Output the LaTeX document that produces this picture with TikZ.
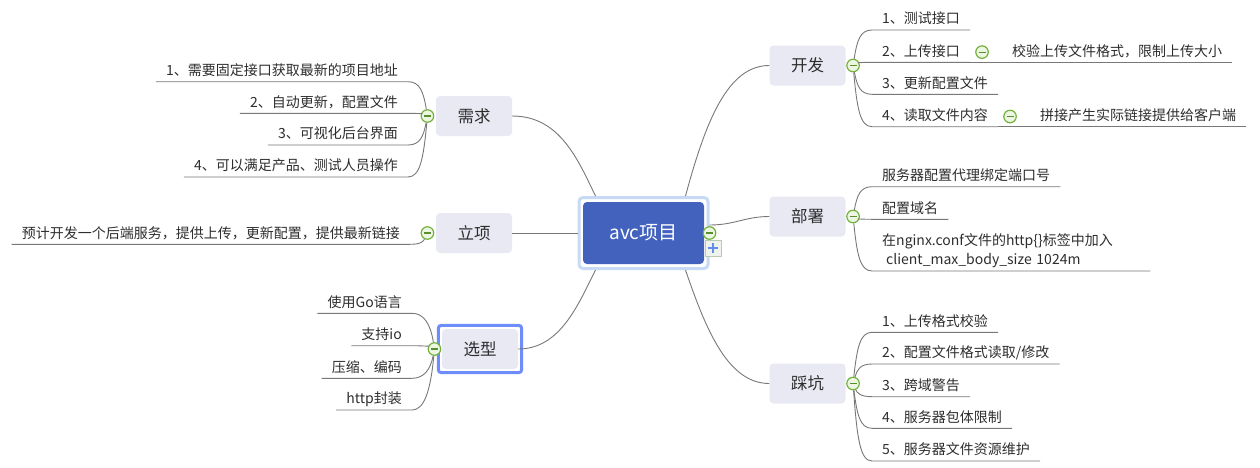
\documentclass[tikz,border=0pt]{standalone}
\usepackage{fontspec}
\setmainfont{Noto Sans CJK SC}
\usetikzlibrary{positioning,fit,calc}
\definecolor{rootblue}{RGB}{66,98,190}
\definecolor{rootring}{RGB}{199,218,245}
\definecolor{topicgray}{RGB}{232,233,243}
\definecolor{selblue}{RGB}{110,140,250}
\definecolor{inkgray}{RGB}{45,45,45}
\definecolor{linegray}{RGB}{120,120,120}
\definecolor{knobgreen}{RGB}{114,178,58}
\definecolor{knobfill}{RGB}{236,246,226}
\definecolor{plusblue}{RGB}{100,140,235}
\definecolor{plusedge}{RGB}{185,204,178}
\definecolor{plusfill}{RGB}{238,243,238}

\tikzset{
  rootnode/.style={fill=rootblue, rounded corners=4pt, text=white, minimum width=121pt, minimum height=62pt, font=\fontsize{19}{22}\selectfont},
  ringnode/.style={draw=rootring, line width=3pt, fill=white, rounded corners=4pt, minimum width=129pt, minimum height=71pt},
  topic/.style={fill=topicgray, rounded corners=4pt, text=inkgray, minimum width=76pt, minimum height=40pt, font=\fontsize{16.5}{19}\selectfont},
  selframe/.style={draw=selblue, line width=3pt, rounded corners=3pt, inner sep=3.5pt},
  leafbase/.style={text=inkgray, inner xsep=10pt, inner ysep=3pt, font=\fontsize{14}{17}\selectfont},
  leaf/.style={leafbase, text height=11pt, text depth=3pt},
  twig/.style={draw=linegray, line width=0.9pt},
  knob/.style={circle, draw=knobgreen, line width=1.2pt, fill=knobfill, minimum size=12.5pt, inner sep=0pt,
    path picture={\draw[knobgreen!80!black, line width=1.2pt] ([xshift=-3.5pt]path picture bounding box.center) -- ([xshift=3.5pt]path picture bounding box.center);}},
  plusbox/.style={draw=plusedge, fill=plusfill, minimum size=16pt, inner sep=0pt,
    path picture={\draw[plusblue, line width=2pt] ([xshift=-5pt]path picture bounding box.center) -- ([xshift=5pt]path picture bounding box.center) ([yshift=-5pt]path picture bounding box.center) -- ([yshift=5pt]path picture bounding box.center);}}
}

\begin{document}
\begin{tikzpicture}[x=1pt, y=-1pt]
  \useasboundingbox (0,0) rectangle (1260,467);

  % root
  \node[ringnode] (ring) at (643.5,233) {};
  \node[rootnode] (root) at (643.5,233) {avc项目};

  % main topics
  \node[topic] (need) at (474,116) {需求};
  \node[topic] (setup) at (474,233) {立项};
  \node[topic] (pick) at (480,349) {选型};
  \node[selframe, fit=(pick)] (picksel) {};
  \node[topic] (dev) at (807.5,65.5) {开发};
  \node[topic] (deploy) at (807.5,216.5) {部署};
  \node[topic] (pit) at (807.5,383.5) {踩坑};

  \draw[twig] (need.east) .. controls (560,116) and (578,160) .. ([xshift=18pt]ring.north west);
  \draw[twig] (setup.east) -- (ring.west);
  \draw[twig] (pick.east) .. controls (560,349) and (578,305) .. ([xshift=18pt]ring.south west);
  \draw[twig] (dev.west) .. controls (728,65.5) and (706,120) .. ([xshift=-24pt]ring.north east);
  \draw[twig] (deploy.west) .. controls (745,216.5) and (735,225) .. ([yshift=8pt]ring.east);
  \draw[twig] (pit.west) .. controls (728,383.5) and (706,330) .. ([xshift=-24pt]ring.south east);

  \node[knob] (rootk) at (ring.east) {};
  \node[plusbox, anchor=north west] (rootplus) at ([xshift=-5pt,yshift=-7pt]ring.east) {};

  \node[knob, left=1.5pt of need] (needk) {};
  \node[knob, left=1.5pt of setup] (setupk) {};
  \node[knob, left=0.5pt of pick] (pickk) {};
  \node[knob, right=0.5pt of dev] (devk) {};
  \node[knob, right=0.5pt of deploy] (deployk) {};
  \node[knob, right=0.5pt of pit] (pitk) {};

  % 需求
  \node[leaf, anchor=south east] (need1) at (408,81.7) {1、需要固定接口获取最新的项目地址};
  \node[leaf, anchor=south east] (need2) at (408,113.3) {2、自动更新，配置文件};
  \node[leaf, anchor=south east] (need3) at (408,145) {3、可视化后台界面};
  \node[leaf, anchor=south east] (need4) at (408,177) {4、可以满足产品、测试人员操作};
  \foreach \c in {need1,need2,need3,need4}
    \draw[twig] (needk) .. controls ($(needk.center)!0.7!(needk.center|-\c.south east)+(-4,0)$) and ([xshift=12pt]\c.south east) .. (\c.south east) -- (\c.south west);

  % 立项
  \node[leaf, anchor=south east] (setup1) at (410,244.3) {预计开发一个后端服务，提供上传，更新配置，提供最新链接};
  \draw[twig] (setupk) .. controls ($(setupk.center)!0.7!(setupk.center|-setup1.south east)+(-4,0)$) and ([xshift=12pt]setup1.south east) .. (setup1.south east) -- (setup1.south west);

  % 选型
  \node[leaf, anchor=south east] (pick1) at (412,313.3) {使用Go语言};
  \node[leaf, anchor=south east] (pick2) at (412,345.7) {支持io};
  \node[leaf, anchor=south east] (pick3) at (412,378.3) {压缩、编码};
  \node[leaf, anchor=south east] (pick4) at (412,410) {http封装};
  \foreach \c in {pick1,pick2,pick3,pick4}
    \draw[twig] (pickk) .. controls ($(pickk.center)!0.7!(pickk.center|-\c.south east)+(-4,0)$) and ([xshift=12pt]\c.south east) .. (\c.south east) -- (\c.south west);

  % 开发
  \node[leaf, anchor=south west] (dev1) at (872,30) {1、测试接口};
  \node[leaf, anchor=south west] (dev2) at (872,62.3) {2、上传接口};
  \node[leaf, anchor=south west] (dev3) at (872,94.3) {3、更新配置文件};
  \node[leaf, anchor=south west] (dev4) at (872,126.7) {4、读取文件内容};
  \node[knob, right=5pt of dev2] (dev2k) {};
  \node[leaf, right=13pt of dev2k] (dev2a) {校验上传文件格式，限制上传大小};
  \node[knob, right=5pt of dev4] (dev4k) {};
  \node[leaf, right=13pt of dev4k] (dev4a) {拼接产生实际链接提供给客户端};
  \foreach \c in {dev1,dev2,dev3,dev4}
    \draw[twig] (devk) .. controls ($(devk.center)!0.7!(devk.center|-\c.south west)+(4,0)$) and ([xshift=-12pt]\c.south west) .. (\c.south west) -- (\c.south east);
  \draw[twig] (dev2.south east) -- (dev2a.south west) -- (dev2a.south east);
  \draw[twig] (dev4.south east) -- (dev4a.south west) -- (dev4a.south east);

  % 部署
  \node[leaf, anchor=south west] (deploy1) at (872,186.7) {服务器配置代理绑定端口号};
  \node[leaf, anchor=south west] (deploy2) at (872,219.3) {配置域名};
  \node[leafbase, anchor=south west, align=left, text width=258pt, font=\fontsize{14}{19}\selectfont] (deploy3) at (872,271) {在nginx.conf文件的http\{\}标签中加入\\\hspace*{4pt}client\_max\_body\_size 1024m};
  \foreach \c in {deploy1,deploy2,deploy3}
    \draw[twig] (deployk) .. controls ($(deployk.center)!0.7!(deployk.center|-\c.south west)+(4,0)$) and ([xshift=-12pt]\c.south west) .. (\c.south west) -- (\c.south east);

  % 踩坑
  \node[leaf, anchor=south west] (pit1) at (872,332.3) {1、上传格式校验};
  \node[leaf, anchor=south west] (pit2) at (872,364) {2、配置文件格式读取/修改};
  \node[leaf, anchor=south west] (pit3) at (872,396.7) {3、跨域警告};
  \node[leaf, anchor=south west] (pit4) at (872,428.3) {4、服务器包体限制};
  \node[leaf, anchor=south west] (pit5) at (872,461) {5、服务器文件资源维护};
  \foreach \c in {pit1,pit2,pit3,pit4,pit5}
    \draw[twig] (pitk) .. controls ($(pitk.center)!0.7!(pitk.center|-\c.south west)+(4,0)$) and ([xshift=-12pt]\c.south west) .. (\c.south west) -- (\c.south east);
\end{tikzpicture}
\end{document}
